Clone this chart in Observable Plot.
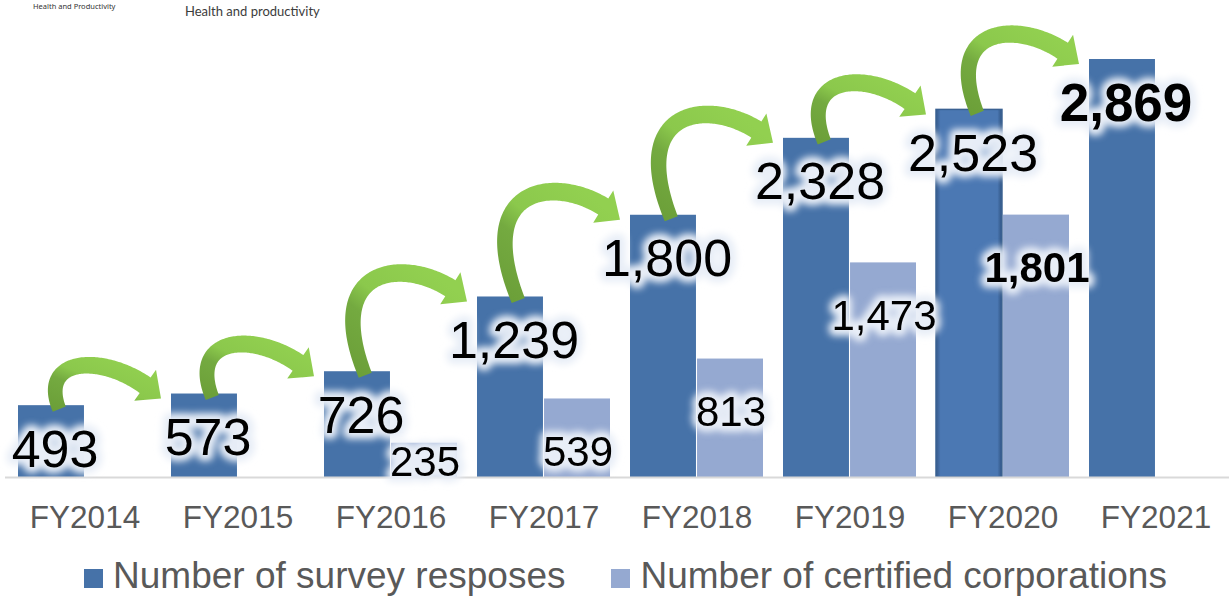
<!DOCTYPE html>
<html>
<head>
<meta charset="utf-8">
<script src="https://cdn.jsdelivr.net/npm/d3@7"></script>
<script src="https://cdn.jsdelivr.net/npm/@observablehq/plot@0.6"></script>
<style>
  html, body { margin: 0; padding: 0; background: #fff; width: 1229px; height: 596px; overflow: hidden; }
  #wrap { position: relative; width: 1229px; height: 596px; font-family: "Liberation Sans", Arial, sans-serif; }
  #chart { position: absolute; left: 0; top: 0; }
  .hdr1 { position: absolute; left: 33px; top: 1px; font: 7.5px "Noto Sans", sans-serif; color: #333; white-space: nowrap; }
  .hdr2 { position: absolute; left: 185px; top: 3px; font: 13px "Lato", sans-serif; color: #3c3c3c; white-space: nowrap; }
  #legend { position: absolute; left: 0; top: 557px; width: 1229px; display: flex; justify-content: center; align-items: flex-start; padding-left: 22px; box-sizing: border-box; }
  .item { display: flex; align-items: flex-start; font-size: 37px; line-height: 37px; color: #595959; white-space: nowrap; }
  .item + .item { margin-left: 46px; }
  .sw { width: 19px; height: 19px; margin-top: 12px; margin-right: 10px; }
</style>
</head>
<body>
<div id="wrap">
  <div id="chart"></div>
  <div class="hdr1">Health and Productivity</div>
  <div class="hdr2">Health and productivity</div>
  <div id="legend"></div>
</div>
<script>
// ---- data ----
const years = ["FY2014", "FY2015", "FY2016", "FY2017", "FY2018", "FY2019", "FY2020", "FY2021"];
const survey = [493, 573, 726, 1239, 1800, 2328, 2523, 2869];
const certified = [null, null, 235, 539, 813, 1473, 1801, null];
const seriesNames = ["Number of survey resposes", "Number of certified corporations"];
const highlightSurvey = "FY2021";     // bold label
const highlightCertified = "FY2020";  // bold label
const bevelYear = "FY2020";           // bevelled bar

// ---- styles ----
const darkColor = "#4672a8";
const lightColor = "#95a9d1";
const haloColor = "#e8eef7";
const W = 1229, H = 545;
const mL = 5, mR = -6, mB = 68;
const padIn = 0.128, padOut = 0.064;
const step = (W - mL - mR) / (years.length - padIn + 2 * padOut);
const half = step * (1 - padIn) / 2;
const fmt = d3.format(",");

const rows = years.map((year, i) => ({year, survey: survey[i], certified: certified[i]}));
const certRows = rows.filter(d => d.certified != null);

// tapered curved arrows between consecutive survey bars, placed with Plot's scales
function growthArrows(index, scales) {
  const ns = "http://www.w3.org/2000/svg";
  const xs = scales.x, ys = scales.y;
  const bwx = xs.bandwidth();
  const g = document.createElementNS(ns, "g");
  g.setAttribute("aria-label", "growth arrows");
  for (let i = 0; i < years.length - 1; i++) {
    const x0 = xs(years[i]) + bwx / 4 + 8;
    const y0 = ys(survey[i]) + 4;
    const x3 = xs(years[i + 1]) - 10;
    const y3 = ys(survey[i + 1]) + 5;
    const dxv = x3 - x0;
    const ycp = Math.min(y0, y3) - 46;
    const p0 = [x0, y0], p1 = [x0 - 0.4 * (y0 - ycp), ycp], p2 = [x3 - 0.45 * dxv, ycp], p3 = [x3, y3];
    const N = 120;
    const pts = [], tan = [], cum = [0];
    for (let k = 0; k <= N; k++) {
      const t = k / N, u = 1 - t;
      const px = u*u*u*p0[0] + 3*u*u*t*p1[0] + 3*u*t*t*p2[0] + t*t*t*p3[0];
      const py = u*u*u*p0[1] + 3*u*u*t*p1[1] + 3*u*t*t*p2[1] + t*t*t*p3[1];
      const tx = 3*u*u*(p1[0]-p0[0]) + 6*u*t*(p2[0]-p1[0]) + 3*t*t*(p3[0]-p2[0]);
      const ty = 3*u*u*(p1[1]-p0[1]) + 6*u*t*(p2[1]-p1[1]) + 3*t*t*(p3[1]-p2[1]);
      const tl = Math.hypot(tx, ty) || 1;
      pts.push([px, py]); tan.push([tx / tl, ty / tl]);
      if (k > 0) cum.push(cum[k - 1] + Math.hypot(px - pts[k - 1][0], py - pts[k - 1][1]));
    }
    const L = cum[N], headLen = 22, headW = 38, wTail = 14, wHead = 19;
    const bodyEnd = L - headLen;
    let kEnd = 0;
    while (kEnd < N && cum[kEnd] < bodyEnd) kEnd++;
    const left = [], right = [];
    for (let k = 0; k <= kEnd; k++) {
      const w = (wTail + (wHead - wTail) * Math.min(1, cum[k] / bodyEnd)) / 2;
      const nx = -tan[k][1], ny = tan[k][0];
      left.push([pts[k][0] + nx * w, pts[k][1] + ny * w]);
      right.push([pts[k][0] - nx * w, pts[k][1] - ny * w]);
    }
    const B = pts[kEnd], nB = [-tan[kEnd][1], tan[kEnd][0]];
    const poly = [
      ...left,
      [B[0] + nB[0] * headW / 2, B[1] + nB[1] * headW / 2],
      p3,
      [B[0] - nB[0] * headW / 2, B[1] - nB[1] * headW / 2],
      ...right.reverse()
    ];
    const path = document.createElementNS(ns, "path");
    path.setAttribute("d", "M" + poly.map(p => p[0].toFixed(2) + "," + p[1].toFixed(2)).join("L") + "Z");
    path.setAttribute("fill", "url(#arrowGrad)");
    g.appendChild(path);
  }
  return g;
}

const textBase = {x: "year", textAnchor: "middle", lineAnchor: "bottom"};
const darkLabel = (bold) => ({...textBase, y: "survey", text: d => fmt(d.survey), dx: -30, dy: 61,
  fontSize: bold ? 53 : 52, fontWeight: bold ? "bold" : "normal"});
const lightLabel = (bold) => ({...textBase, y: d => Math.max(d.certified, 467), text: d => fmt(d.certified), dx: 34, dy: 67,
  fontSize: 42, fontWeight: bold ? "bold" : "normal"});
const halo = {fill: "none", stroke: haloColor, strokeWidth: 12, strokeLinejoin: "round"};

const sN = rows.filter(d => d.year !== highlightSurvey);
const sB = rows.filter(d => d.year === highlightSurvey);
const cN = certRows.filter(d => d.year !== highlightCertified);
const cB = certRows.filter(d => d.year === highlightCertified);

const svg = Plot.plot({
  width: W, height: H,
  marginTop: 0, marginBottom: mB, marginLeft: mL, marginRight: mR,
  style: {fontFamily: "'Liberation Sans', Arial, sans-serif", background: "transparent", overflow: "visible"},
  x: {type: "band", domain: years, paddingInner: padIn, paddingOuter: padOut, label: null},
  y: {domain: [0, 3274], axis: null},
  marks: [
    Plot.barY(rows.filter(d => d.year !== bevelYear), {x: "year", y: "survey", fill: darkColor, insetRight: half}),
    Plot.barY(rows.filter(d => d.year === bevelYear), {x: "year", y: "survey", fill: "url(#bevel)", stroke: "#3a6192", strokeWidth: 1.5, insetRight: half}),
    Plot.barY(certRows, {x: "year", y: "certified", fill: lightColor, insetLeft: half}),
    Plot.ruleY([0], {stroke: "#d9d9d9", strokeWidth: 2}),
    Plot.axisX({tickSize: 0, tickPadding: 28, fontSize: 31.5, fill: "#595959", label: null}),
    Plot.text(sN, {...darkLabel(false), ...halo}),
    Plot.text(sB, {...darkLabel(true), ...halo}),
    Plot.text(cN, {...lightLabel(false), ...halo}),
    Plot.text(cB, {...lightLabel(true), ...halo}),
    Plot.text(sN, {...darkLabel(false), fill: "#000"}),
    Plot.text(sB, {...darkLabel(true), fill: "#000"}),
    Plot.text(cN, {...lightLabel(false), fill: "#000"}),
    Plot.text(cB, {...lightLabel(true), fill: "#000"}),
    growthArrows
  ]
});

// gradients and glow filter
const defs = d3.select(svg).insert("defs", ":first-child");
const ag = defs.append("linearGradient").attr("id", "arrowGrad").attr("x1", 0).attr("y1", 1).attr("x2", 0.75).attr("y2", 0.1);
[[0, "#6a9d37"], [0.45, "#74aa40"], [0.62, "#8bc84c"], [1, "#92d050"]].forEach(([o, c]) => ag.append("stop").attr("offset", o).attr("stop-color", c));
const bg = defs.append("linearGradient").attr("id", "bevel").attr("x1", 0).attr("y1", 0).attr("x2", 1).attr("y2", 0);
[[0, "#35598a"], [0.07, "#4b78b3"], [0.93, "#4b78b3"], [1, "#2f5381"]].forEach(([o, c]) => bg.append("stop").attr("offset", o).attr("stop-color", c));
const f = defs.append("filter").attr("id", "glow").attr("x", "-30%").attr("y", "-50%").attr("width", "160%").attr("height", "200%");
f.append("feGaussianBlur").attr("stdDeviation", 3.5);
d3.select(svg).selectAll("g, text").filter(function () {
  return this.getAttribute("stroke") === haloColor;
}).attr("filter", "url(#glow)");

document.getElementById("chart").appendChild(svg);

// legend
const legend = d3.select("#legend");
[[seriesNames[0], darkColor], [seriesNames[1], lightColor]].forEach(([name, color]) => {
  const it = legend.append("div").attr("class", "item");
  it.append("div").attr("class", "sw").style("background", color);
  it.append("span").text(name);
});
</script>
</body>
</html>
